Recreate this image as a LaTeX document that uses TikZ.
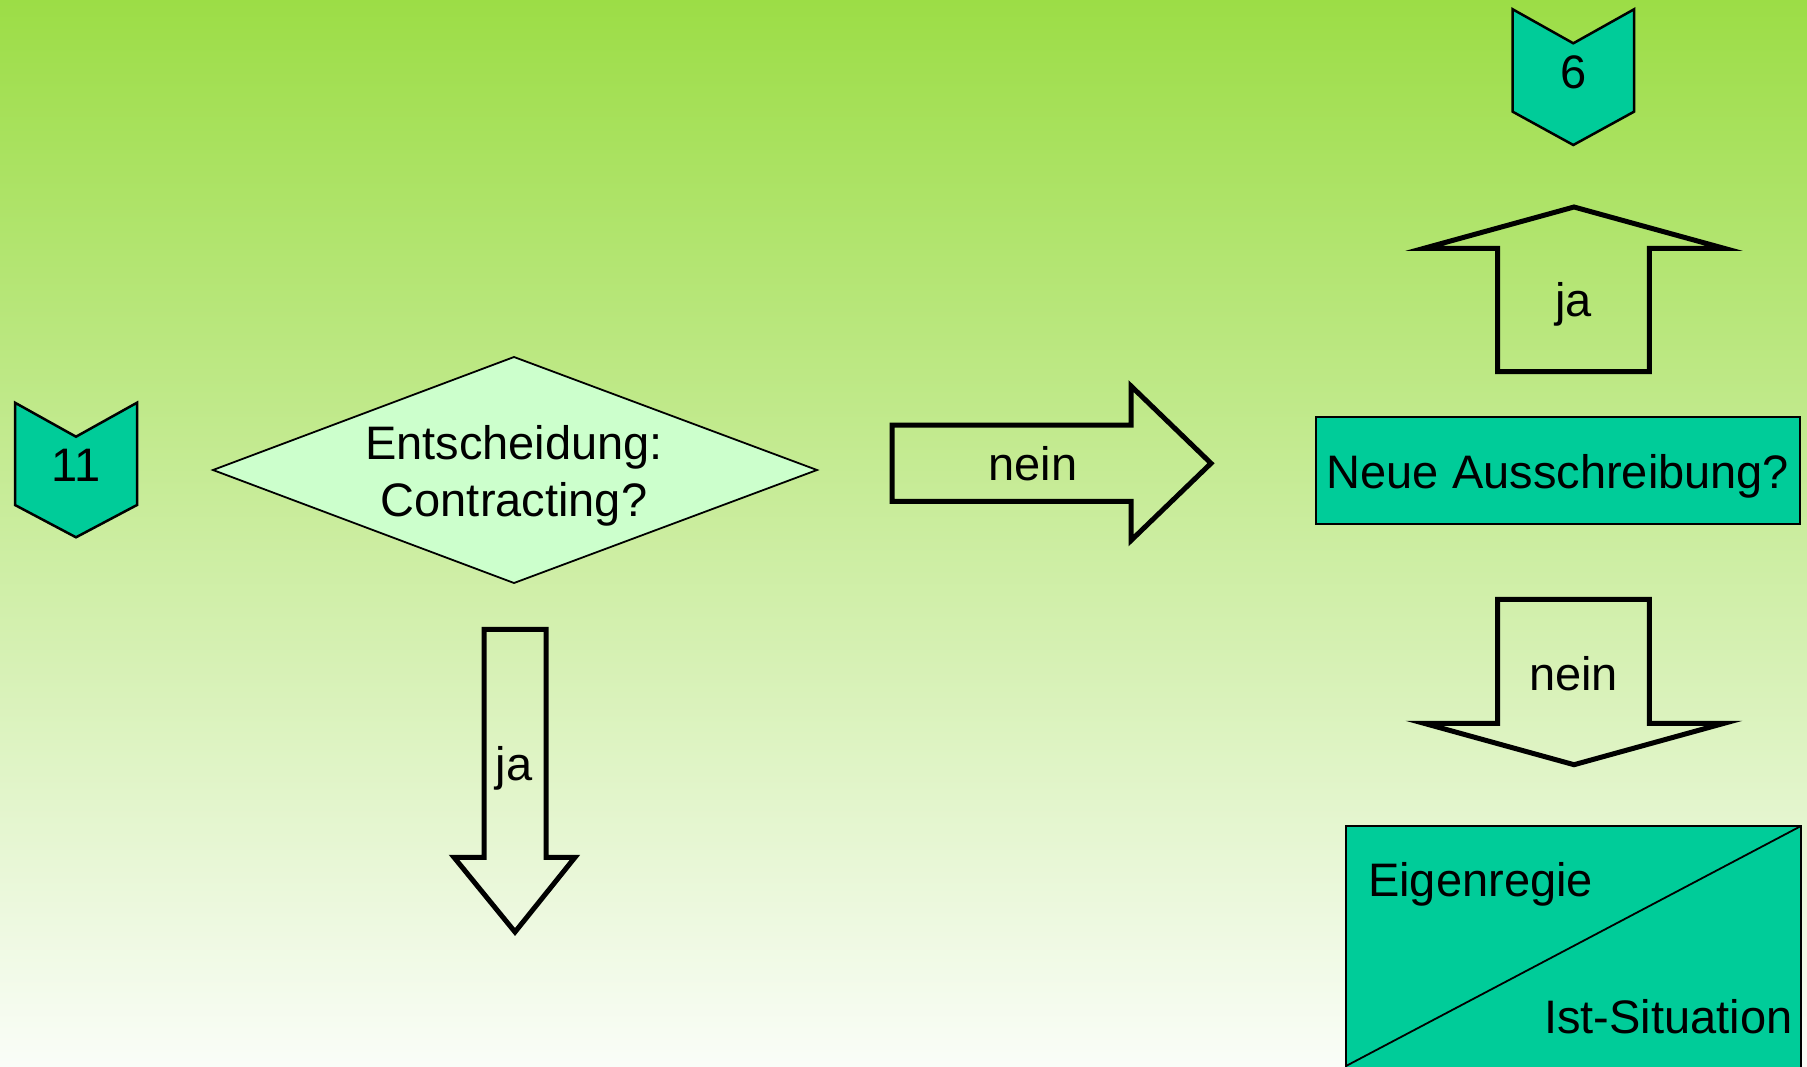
\documentclass[tikz,border=0pt]{standalone}
\usepackage{fontspec}
\setmainfont{Liberation Sans}
\definecolor{tealbox}{RGB}{0,204,153}
\definecolor{mintfill}{RGB}{204,255,204}
\definecolor{bgtop}{RGB}{156,221,70}
\definecolor{bgmid}{RGB}{204,234,168}
\definecolor{bgbot}{RGB}{250,253,248}
\tikzset{
  lbl/.style={inner sep=0pt, font=\fontsize{47}{56}\selectfont, text=black},
  chevron/.style={fill=tealbox, draw=black, line width=2.5pt, line join=miter},
  blockarrow/.style={draw=black, line width=5pt, line join=miter, miter limit=20},
  tealrect/.style={fill=tealbox, draw=black, line width=1.8pt},
}
\begin{document}
\begin{tikzpicture}[x=1pt,y=-1pt]
\useasboundingbox (0,0) rectangle (1807,1066);
\clip (0,0) rectangle (1807,1066);
\shade[top color=bgtop, middle color=bgmid, bottom color=bgbot] (0,0) rectangle (1807,1066);

% chevron 11
\draw[chevron] (15,402.7) -- (76,436.7) -- (137,402.7) -- (137,505) -- (76,537.3) -- (15,505) -- cycle;
\node[lbl, anchor=base] (c11) at (76,481.7) {11};

% chevron 6
\draw[chevron] (1512.7,9.3) -- (1573.3,43.3) -- (1634,9.3) -- (1634,111.7) -- (1573.3,145) -- (1512.7,111.7) -- cycle;
\node[lbl, anchor=base] (c6) at (1573.3,88.3) {6};

% decision diamond
\draw[fill=mintfill, draw=black, line width=1.8pt] (514,357) -- (817,470) -- (514,583) -- (213,470) -- cycle;
\node[lbl, anchor=base] (dec1) at (514,459.3) {Entscheidung:};
\node[lbl, anchor=base] (dec2) at (514,516) {Contracting?};

% right arrow nein
\draw[blockarrow] (892,425.2) -- (1131,425.2) -- (1131,386) -- (1211,463.3) -- (1131,540.5) -- (1131,501.3) -- (892,501.3) -- cycle;
\node[lbl, anchor=base] (nein1) at (1033,480) {nein};

% down arrow ja (left)
\draw[blockarrow] (484,629.3) -- (546,629.3) -- (546,857.3) -- (575,857.3) -- (515,932) -- (454,857.3) -- (484,857.3) -- cycle;
\node[lbl, anchor=base] (ja1) at (514,780) {ja};

% up arrow ja (right)
\draw[blockarrow] (1497.7,371.7) -- (1497.7,248.3) -- (1424,248.3) -- (1574,207) -- (1724,248.3) -- (1649.3,248.3) -- (1649.3,371.7) -- cycle;
\node[lbl, anchor=base] (ja2) at (1573.5,316.7) {ja};

% Neue Ausschreibung box
\draw[tealrect] (1316,417.3) rectangle (1800,524);
\node[lbl, anchor=base] (neue) at (1558,488.3) {Neue Ausschreibung?};

% down arrow nein (right)
\draw[blockarrow] (1497.7,599.3) -- (1649.3,599.3) -- (1649.3,723.3) -- (1724,723.3) -- (1574,764.7) -- (1424,723.3) -- (1497.7,723.3) -- cycle;
\node[lbl, anchor=base] (nein2) at (1573.5,690) {nein};

% Eigenregie / Ist-Situation box
\draw[tealrect] (1346,826) rectangle (1801,1075);
\draw[black, line width=1.8pt] (1801,826) -- (1346,1066);
\node[lbl, anchor=base west] (eigen) at (1368,896.7) {Eigenregie};
\node[lbl, anchor=base east] (ist) at (1792.7,1033.3) {Ist-Situation};
\end{tikzpicture}
\end{document}
